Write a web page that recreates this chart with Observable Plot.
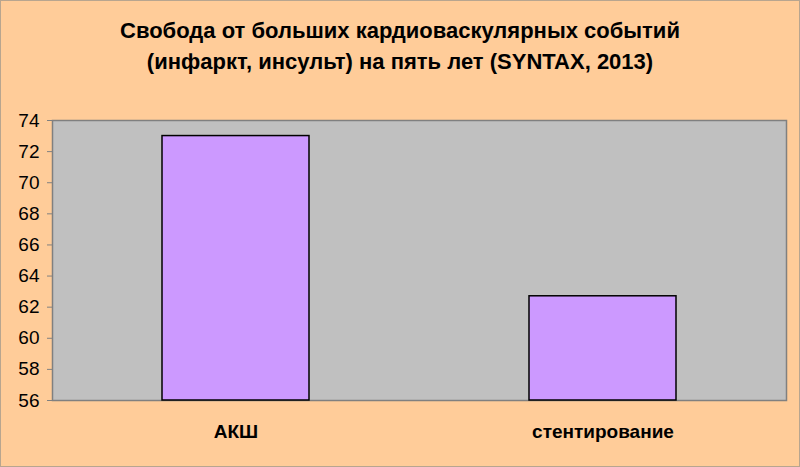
<!DOCTYPE html>
<html>
<head>
<meta charset="utf-8">
<script src="https://cdn.jsdelivr.net/npm/d3@7"></script>
<script src="https://cdn.jsdelivr.net/npm/@observablehq/plot@0.6"></script>
<style>
  html, body { margin: 0; padding: 0; background: #FFCC99; }
  #chart {
    position: relative; width: 798px; height: 465px;
    background: #FFCC99; border: 1px solid #b8a58f;
    font-family: "Liberation Sans", Arial, sans-serif;
  }
  #title {
    position: absolute; left: 0; top: 14px; width: 798px;
    text-align: center; font-weight: bold; font-size: 22px; line-height: 31px; color: #000;
  }
  #plot { position: absolute; left: 0; top: 0; }
  #plot svg g[aria-label="y-axis tick label"] text { font-size: 19px; }
  #plot svg g[aria-label="x-axis tick label"] text { font-size: 19px; font-weight: bold; }
</style>
</head>
<body>
<div id="chart">
  <div id="plot"></div>
  <div id="title">Свобода от больших кардиоваскулярных событий<br>(инфаркт, инсульт) на пять лет (SYNTAX, 2013)</div>
</div>
<script>
const categories = ["АКШ", "стентирование"];
const values = [73, 62.7];
const yTicks = [56, 58, 60, 62, 64, 66, 68, 70, 72, 74];

const data = categories.map((c, i) => ({category: c, value: values[i]}));

const chart = Plot.plot({
  width: 798,
  height: 465,
  marginTop: 119,
  marginBottom: 66,
  marginLeft: 51,
  marginRight: 13,
  style: {background: "transparent", fontFamily: "'Liberation Sans', Arial, sans-serif", fontSize: "19px", color: "#000"},
  x: {domain: categories, paddingInner: 0.6, paddingOuter: 0.3, label: null},
  y: {domain: [56, 74], label: null},
  marks: [
    Plot.frame({fill: "#C0C0C0", stroke: "#808080", strokeWidth: 1.5}),
    Plot.barY(data, {x: "category", y1: 56, y2: "value", fill: "#CC99FF", stroke: "#000", strokeWidth: 1.5}),
    Plot.axisY({ticks: yTicks, tickSize: 5, tickPadding: 8, stroke: "#808080", fontSize: 19, fill: "#000", label: null}),
    Plot.axisX({tickSize: 0, tickPadding: 24, fontSize: 19, fontWeight: "bold", fill: "#000", label: null})
  ]
});
document.getElementById("plot").appendChild(chart);
</script>
</body>
</html>
